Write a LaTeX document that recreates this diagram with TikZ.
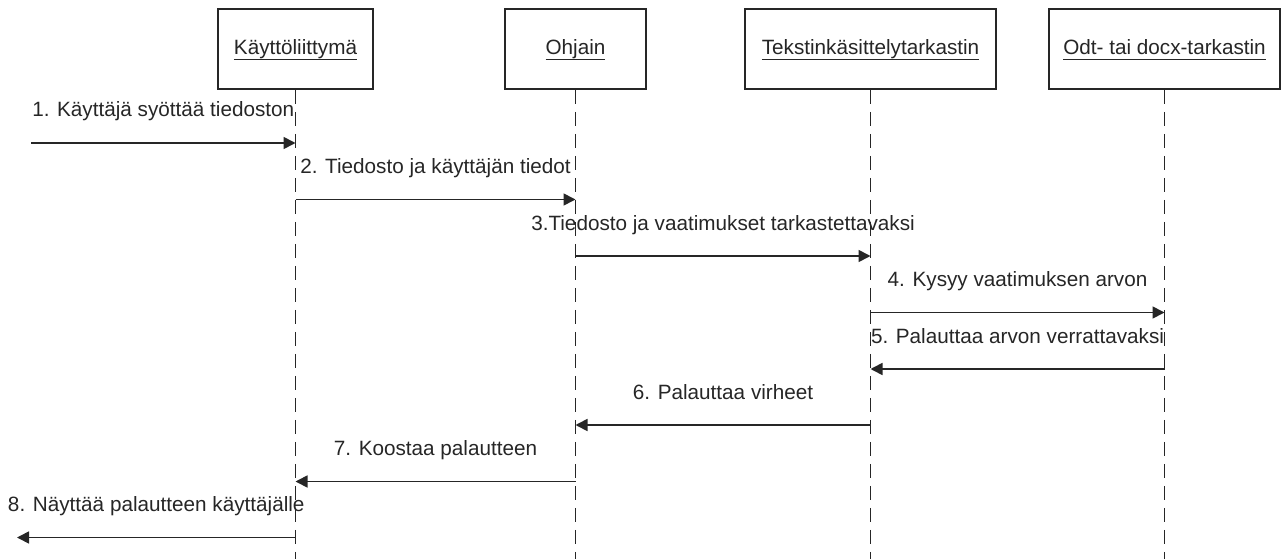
\documentclass[tikz,border=0pt]{standalone}
\usepackage{fontspec}
\setmainfont{Liberation Sans}
\usetikzlibrary{arrows.meta}
\newcommand\ulbox[1]{\setbox0\hbox{#1}\rlap{\rule[-5pt]{\wd0}{1.4pt}}\box0}
\tikzset{
  objbox/.style={draw=black!85, line width=1.8pt, fill=white, inner sep=0pt, minimum height=80pt},
  boxtext/.style={anchor=base, inner sep=0pt, text=black!85},
  life/.style={line width=1.4pt, black!85, dash pattern=on 14pt off 8pt},
  msg/.style={line width=1.7pt, black!85, -{Triangle[length=12pt,width=12pt]}},
  lbl/.style={midway, anchor=base, yshift=26pt, inner sep=0pt, text=black!85},
}
\begin{document}
\begin{tikzpicture}[x=1pt, y=-1pt, font=\fontsize{20.7}{24}\selectfont]
\useasboundingbox (0,0) rectangle (1282,559);
% objects
\node[objbox, minimum width=155pt] (k) at (295.5,49) {};
\node[objbox, minimum width=141pt] (o) at (575.5,49) {};
\node[objbox, minimum width=251pt] (t) at (870.5,49) {};
\node[objbox, minimum width=231pt] (d) at (1164.5,49) {};
\node[boxtext] (kt) at (295.5,55) {\ulbox{Käyttöliittymä}};
\node[boxtext] (ot) at (575.5,55) {\ulbox{Ohjain}};
\node[boxtext] (tt) at (870.5,55) {\ulbox{Tekstinkäsittelytarkastin}};
\node[boxtext] (dt) at (1164.5,55) {\ulbox{Odt- tai docx-tarkastin}};
% lifeline ends
\coordinate (bot) at (0,559);
\draw[life] (k.south) -- (k.south |- bot);
\draw[life] (o.south) -- (o.south |- bot);
\draw[life] (t.south) -- (t.south |- bot);
\draw[life] (d.south) -- (d.south |- bot);
% message rows
\coordinate (r1) at (31,143);
\coordinate (r2) at (0,199.5);
\coordinate (r3) at (0,256);
\coordinate (r4) at (0,312.5);
\coordinate (r5) at (0,369);
\coordinate (r6) at (0,425);
\coordinate (r7) at (0,481.5);
\coordinate (r8) at (17,537.5);
\draw[msg] (r1) -- (k |- r1) node[lbl] {1. Käyttäjä syöttää tiedoston};
\draw[msg] (k |- r2) -- (o |- r2) node[lbl] {2. Tiedosto ja käyttäjän tiedot};
\draw[msg] (o |- r3) -- (t |- r3) node[lbl] {3.Tiedosto ja vaatimukset tarkastettavaksi};
\draw[msg] (t |- r4) -- (d |- r4) node[lbl] {4. Kysyy vaatimuksen arvon};
\draw[msg] (d |- r5) -- (t |- r5) node[lbl] {5. Palauttaa arvon verrattavaksi};
\draw[msg] (t |- r6) -- (o |- r6) node[lbl] {6. Palauttaa virheet};
\draw[msg] (o |- r7) -- (k |- r7) node[lbl] {7. Koostaa palautteen};
\draw[msg] (k |- r8) -- (r8) node[lbl] {8. Näyttää palautteen käyttäjälle};
\end{tikzpicture}
\end{document}
